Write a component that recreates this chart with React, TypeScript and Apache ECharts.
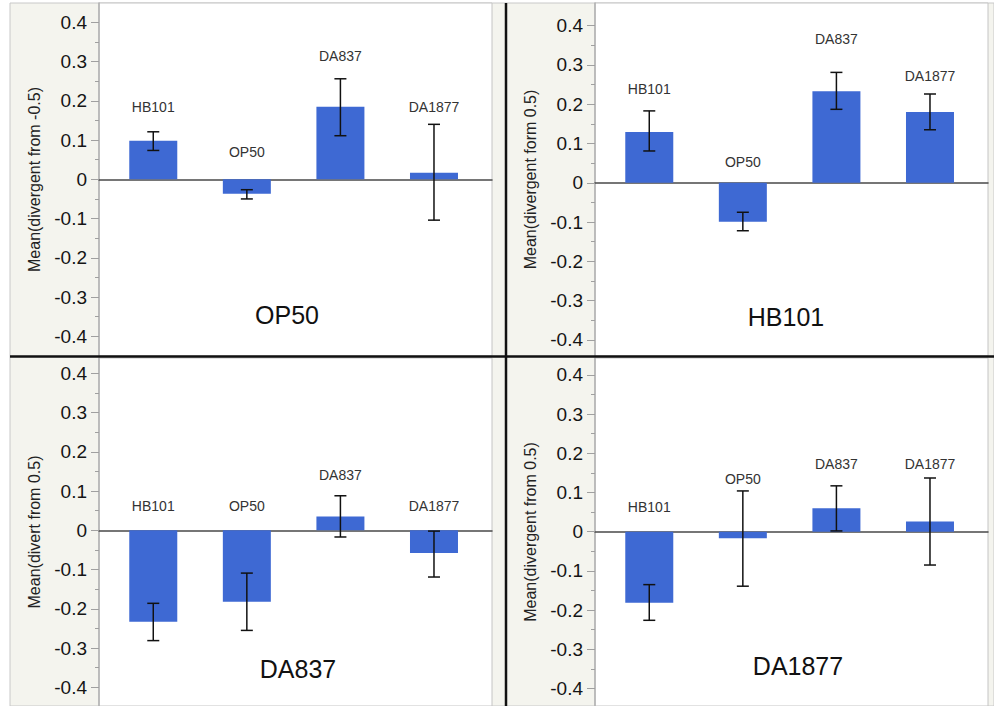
import React, { useEffect, useRef } from 'react';
import * as echarts from 'echarts';

// ---- data ----
const strains = ['HB101', 'OP50', 'DA837', 'DA1877'];
const panelTitles = ['OP50', 'HB101', 'DA837', 'DA1877'];
const axisNames = [
  'Mean(divergent from -0.5)',
  'Mean(divergent form 0.5)',
  'Mean(divert from 0.5)',
  'Mean(divergent from 0.5)',
];

const meanOP50 = [0.098, -0.037, 0.185, 0.017];
const lowOP50 = [0.0735, -0.05, 0.111, -0.104];
const highOP50 = [0.121, -0.0265, 0.256, 0.14];
const labelAtOP50 = [0.185, 0.07, 0.313, 0.185];

const meanHB101 = [0.129, -0.099, 0.233, 0.18];
const lowHB101 = [0.081, -0.122, 0.187, 0.135];
const highHB101 = [0.183, -0.075, 0.281, 0.226];
const labelAtHB101 = [0.238, 0.053, 0.366, 0.273];

const meanDA837 = [-0.233, -0.182, 0.035, -0.058];
const lowDA837 = [-0.281, -0.255, -0.017, -0.119];
const highDA837 = [-0.186, -0.109, 0.088, -0.002];
const labelAtDA837 = [0.063, 0.063, 0.141, 0.063];

const meanDA1877 = [-0.181, -0.017, 0.06, 0.026];
const lowDA1877 = [-0.226, -0.139, 0.002, -0.085];
const highDA1877 = [-0.135, 0.104, 0.117, 0.137];
const labelAtDA1877 = [0.064, 0.134, 0.172, 0.172];

const tickValues = [-0.4, -0.3, -0.2, -0.1, 0, 0.1, 0.2, 0.3, 0.4];
const minorTickValues = [-0.35, -0.25, -0.15, -0.05, 0.05, 0.15, 0.25, 0.35];

const FONT = '"Liberation Sans", Arial, Helvetica, sans-serif';
const BAR = '#3e69d3';
const BEIGE = '#f4f4ee';

const panels = [
  { title: panelTitles[0], name: axisNames[0], mean: meanOP50, low: lowOP50, high: highOP50, labelAt: labelAtOP50,
    grid: { left: 99, top: 3, width: 393, height: 353 }, yMin: -0.45, yMax: 0.449, titlePos: [287, 315] },
  { title: panelTitles[1], name: axisNames[1], mean: meanHB101, low: lowHB101, high: highHB101, labelAt: labelAtHB101,
    grid: { left: 595, top: 3, width: 393, height: 353 }, yMin: -0.4408, yMax: 0.4576, titlePos: [786, 317] },
  { title: panelTitles[2], name: axisNames[2], mean: meanDA837, low: lowDA837, high: highDA837, labelAt: labelAtDA837,
    grid: { left: 99, top: 358, width: 393, height: 348 }, yMin: -0.4476, yMax: 0.439, titlePos: [298, 669] },
  { title: panelTitles[3], name: axisNames[3], mean: meanDA1877, low: lowDA1877, high: highDA1877, labelAt: labelAtDA1877,
    grid: { left: 595, top: 358, width: 393, height: 348 }, yMin: -0.4446, yMax: 0.4431, titlePos: [798, 666] },
];

export default function App() {
  const ref = useRef<HTMLDivElement>(null);

  useEffect(() => {
    if (!ref.current) return;
    const chart = echarts.init(ref.current, undefined, { renderer: 'svg' });

    const grids: any[] = [];
    const xAxes: any[] = [];
    const yAxes: any[] = [];
    const series: any[] = [];

    panels.forEach((p, pi) => {
      grids.push({
        ...p.grid,
        show: true,
        backgroundColor: '#ffffff',
        borderColor: '#c4c4c4',
        borderWidth: 1,
        containLabel: false,
        outerBoundsMode: 'none',
      });
      xAxes.push({
        type: 'value',
        gridIndex: pi,
        min: -0.58,
        max: 3.62,
        axisLine: { show: true, onZero: true, lineStyle: { color: '#4a4a4a', width: 1.5 } },
        axisTick: { show: false },
        axisLabel: { show: false },
        splitLine: { show: false },
      });
      yAxes.push({
        type: 'value',
        gridIndex: pi,
        min: p.yMin,
        max: p.yMax,
        position: 'left',
        axisLine: { show: true, onZero: false, lineStyle: { color: '#b0b0b0', width: 1.5 } },
        axisTick: { show: true, length: 8, customValues: tickValues, lineStyle: { color: '#a0a0a0', width: 1 } },
        axisLabel: {
          show: true,
          customValues: tickValues,
          margin: 12,
          fontSize: 19,
          color: '#151515',
          fontFamily: FONT,
          formatter: (v: number) => String(Math.round(v * 10) / 10),
        },
        splitLine: { show: false },
        name: p.name,
        nameLocation: 'middle',
        nameGap: 57,
        nameTextStyle: { fontSize: 16, color: '#222', fontFamily: FONT },
      });
      yAxes.push({
        type: 'value',
        gridIndex: pi,
        min: p.yMin,
        max: p.yMax,
        position: 'left',
        offset: 0,
        axisLine: { show: false, onZero: false },
        axisTick: { show: true, length: 4, customValues: minorTickValues, lineStyle: { color: '#a0a0a0', width: 1 } },
        axisLabel: { show: false },
        splitLine: { show: false },
      });

      series.push({
        type: 'bar',
        xAxisIndex: pi,
        yAxisIndex: pi * 2,
        barWidth: 48,
        itemStyle: { color: BAR },
        data: p.mean.map((v, i) => [i, v]),
        z: 2,
      });

      series.push({
        type: 'custom',
        xAxisIndex: pi,
        yAxisIndex: pi * 2,
        encode: { x: 0, y: [1, 2, 3] },
        data: p.mean.map((_, i) => [i, p.low[i], p.high[i], p.labelAt[i]]),
        z: 5,
        renderItem: (params: any, api: any) => {
          const idx = api.value(0);
          const lo = api.coord([idx, api.value(1)]);
          const hi = api.coord([idx, api.value(2)]);
          const lab = api.coord([idx, api.value(3)]);
          const cap = 6;
          const ls = { stroke: '#111', lineWidth: 1.5 };
          return {
            type: 'group',
            children: [
              { type: 'line', shape: { x1: lo[0], y1: lo[1], x2: hi[0], y2: hi[1] }, style: ls },
              { type: 'line', shape: { x1: lo[0] - cap, y1: lo[1], x2: lo[0] + cap, y2: lo[1] }, style: ls },
              { type: 'line', shape: { x1: hi[0] - cap, y1: hi[1], x2: hi[0] + cap, y2: hi[1] }, style: ls },
              {
                type: 'text',
                x: lab[0],
                y: lab[1],
                style: {
                  text: strains[idx],
                  fill: '#333',
                  fontSize: 14,
                  fontFamily: FONT,
                  align: 'center',
                  verticalAlign: 'middle',
                },
              },
            ],
          };
        },
      });
    });

    const graphic: any[] = [
      {
        type: 'rect',
        z: -10,
        shape: { x: 10, y: 3, width: 984, height: 703 },
        style: { fill: BEIGE, stroke: '#c8c8c8', lineWidth: 1 },
        silent: true,
      },
      {
        type: 'line',
        z: 100,
        shape: { x1: 10, y1: 356.5, x2: 994, y2: 356.5 },
        style: { stroke: '#111', lineWidth: 2.5 },
      },
      {
        type: 'line',
        z: 100,
        shape: { x1: 506, y1: 3, x2: 506, y2: 706 },
        style: { stroke: '#111', lineWidth: 2.5 },
      },
      ...panels.map((p) => ({
        type: 'text',
        z: 100,
        x: p.titlePos[0],
        y: p.titlePos[1],
        style: {
          text: p.title,
          fill: '#111',
          fontSize: 25,
          fontFamily: FONT,
          align: 'center',
          verticalAlign: 'middle',
        },
      })),
    ];

    chart.setOption({
      animation: false,
      backgroundColor: '#ffffff',
      grid: grids,
      xAxis: xAxes,
      yAxis: yAxes,
      series,
      graphic,
    });

    return () => {
      chart.dispose();
    };
  }, []);

  return (
    <div
      ref={ref}
      style={{ position: 'absolute', left: 0, top: 0, width: 994, height: 706 }}
    />
  );
}
